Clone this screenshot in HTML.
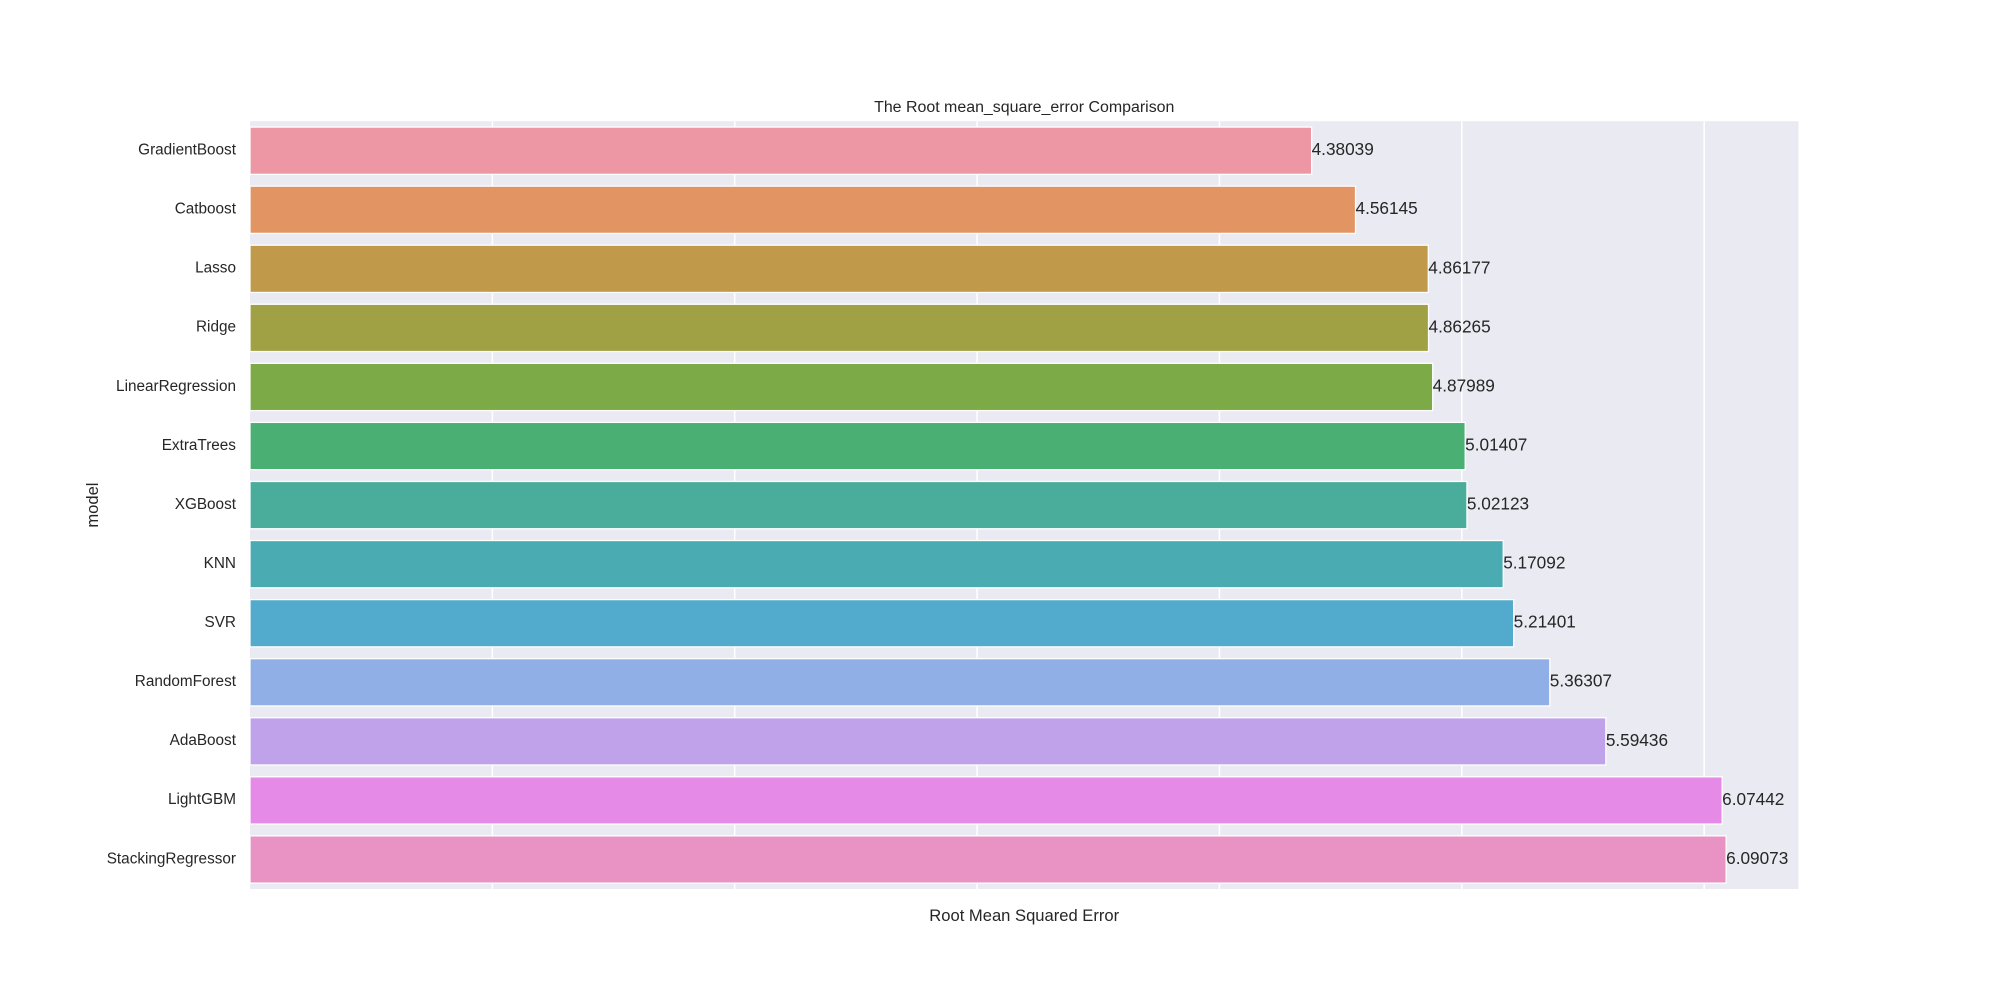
<!DOCTYPE html>
<html>
<head>
<meta charset="utf-8">
<style>
html,body{margin:0;padding:0;background:#fff;}
svg{display:block;font-family:"Liberation Sans",Arial,sans-serif;}
</style>
</head>
<body>
<svg id="chart" width="2000" height="1000" viewBox="0 0 1568 784" xmlns="http://www.w3.org/2000/svg">
  <rect x="196" y="95" width="1214" height="602" fill="#eaeaf2"/>
  <g id="grid"></g>
  <g id="bars"></g>
  <g id="ylabels"></g>
  <g id="vals"></g>
  <text x="803" y="88" text-anchor="middle" font-size="12.5" fill="#262626">The Root mean_square_error Comparison</text>
  <text x="803" y="722" text-anchor="middle" font-size="13" fill="#262626">Root Mean Squared Error</text>
  <text x="0" y="0" transform="translate(77,396) rotate(-90)" text-anchor="middle" font-size="13" fill="#262626">model</text>
</svg>
<script>
const categories = ["GradientBoost","Catboost","Lasso","Ridge","LinearRegression","ExtraTrees","XGBoost","KNN","SVR","RandomForest","AdaBoost","LightGBM","StackingRegressor"];
const values = [4.38039,4.56145,4.86177,4.86265,4.87989,5.01407,5.02123,5.17092,5.21401,5.36307,5.59436,6.07442,6.09073];
const valueLabels = ["4.38039","4.56145","4.86177","4.86265","4.87989","5.01407","5.02123","5.17092","5.21401","5.36307","5.59436","6.07442","6.09073"];
const colors = ["#ec97a3","#e39463","#c09a4a","#a0a044","#7caa47","#4aaf73","#4aad9c","#4aabb3","#52abcc","#91afe7","#bfa2ea","#e68ae7","#e993c4"];
const gridTicks = [1,2,3,4,5,6];

const NS="http://www.w3.org/2000/svg";
const L=196,R=1410,T=95,B=697;
const xmax=Math.max(...values)*1.049;
const x=v=>L+(v/xmax)*(R-L);
const band=(B-T)/categories.length;
const yc=i=>T+band*(i+0.5);
const grid=document.getElementById('grid');
gridTicks.forEach(t=>{
  const l=document.createElementNS(NS,'line');
  l.setAttribute('x1',x(t));l.setAttribute('x2',x(t));l.setAttribute('y1',T);l.setAttribute('y2',B);
  l.setAttribute('stroke','#fff');l.setAttribute('stroke-width','1.2');
  
  
  grid.appendChild(l);
});
const bars=document.getElementById('bars'),yl=document.getElementById('ylabels'),vl=document.getElementById('vals');
categories.forEach((c,i)=>{
  const h=band*0.8;
  const r=document.createElementNS(NS,'rect');
  r.setAttribute('x',x(0));r.setAttribute('y',yc(i)-h/2);
  r.setAttribute('width',x(values[i])-x(0));r.setAttribute('height',h);
  r.setAttribute('fill',colors[i]);r.setAttribute('stroke','#fff');r.setAttribute('stroke-width','1');
  
  
  bars.appendChild(r);
  const t=document.createElementNS(NS,'text');
  t.setAttribute('x',L-11);t.setAttribute('y',yc(i)+3);t.setAttribute('text-anchor','end');
  t.setAttribute('font-size','12');t.setAttribute('fill','#262626');t.textContent=c;
  
  
  yl.appendChild(t);
  const v=document.createElementNS(NS,'text');
  v.setAttribute('x',x(values[i]));v.setAttribute('y',yc(i)+3.5);
  v.setAttribute('font-size','13.5');v.setAttribute('fill','#262626');v.textContent=valueLabels[i];
  
  
  vl.appendChild(v);
});
</script>
</body>
</html>
